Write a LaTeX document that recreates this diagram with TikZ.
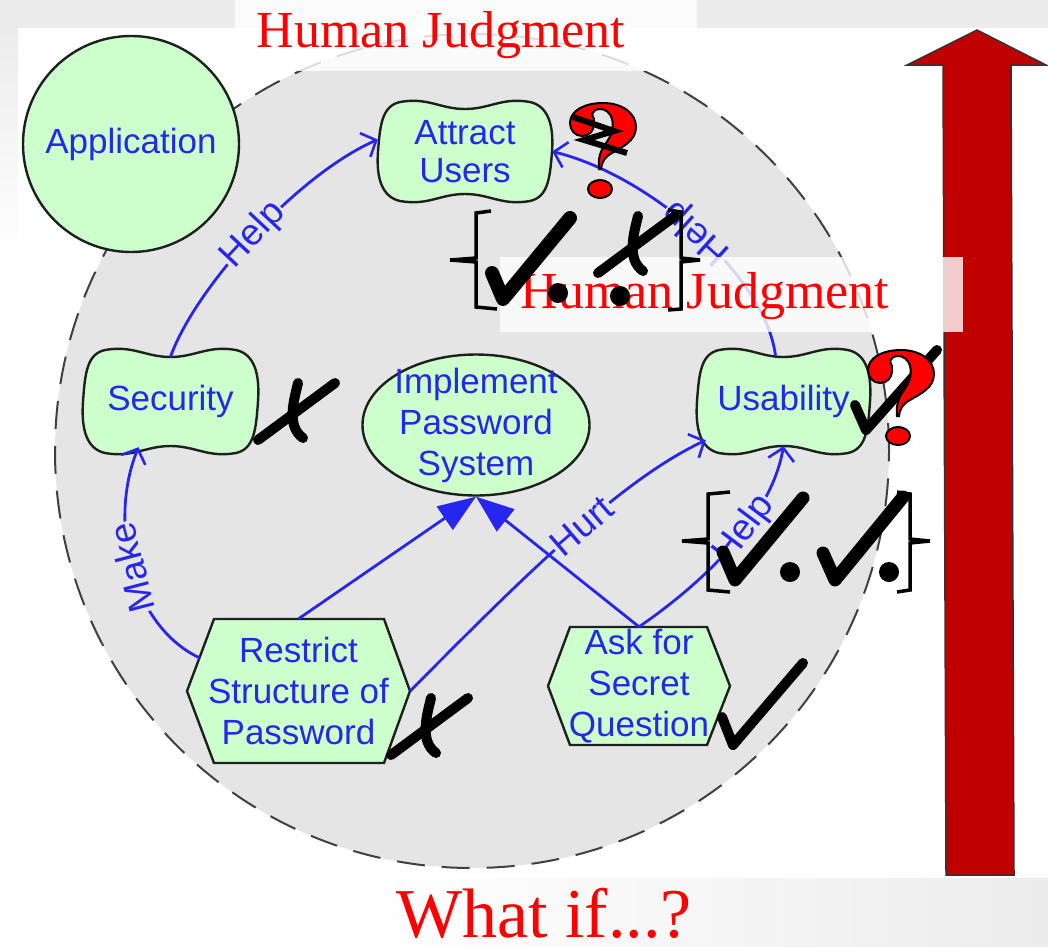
\documentclass[tikz,border=0pt]{standalone}
\usepackage{fontspec}
\setmainfont{Liberation Serif}
\setsansfont{Liberation Sans}
\usetikzlibrary{shapes.geometric,arrows.meta}
\definecolor{bgg}{HTML}{ECECEC}
\definecolor{cgray}{HTML}{E5E5E5}
\definecolor{ngreen}{HTML}{CCFFCC}
\definecolor{nblue}{HTML}{2626EE}
\definecolor{darrow}{HTML}{C00000}
\definecolor{hjred}{HTML}{FF0000}
\tikzset{
  goalline/.style={draw=black!88, line width=2.4pt, fill=ngreen},
  ntext/.style={text=nblue, font=\sffamily\fontsize{35}{41}\selectfont, align=center, inner sep=0pt},
  rel/.style={draw=nblue, line width=2.8pt, -{Straight Barb[length=12pt,width=26pt,line width=2.6pt]}},
  decomp/.style={draw=nblue, line width=2.8pt, -{Triangle[length=38pt,width=28pt]}},
  lbl/.style={sloped, allow upside down, fill=cgray, text=nblue, font=\sffamily\fontsize{37}{40}\selectfont, inner sep=1pt},
  inkmark/.style={draw=black, line width=10pt, line cap=round, line join=round},
  brk/.style={draw=black, line width=3.5pt},
  qm/.style={fill=hjred, draw=black, line width=2pt},
  hj/.style={text=hjred, font=\fontsize{52}{60}\selectfont, inner sep=0pt},
}
\newcommand\softgoal[4]{%
  \draw[goalline] ({#1+22},{#2+2})
  .. controls ({#1+50},{#2-3}) and ({(#1+#3)/2-25},{#2+9}) .. ({(#1+#3)/2},{#2+9})
  .. controls ({(#1+#3)/2+25},{#2+9}) and ({#3-50},{#2-3}) .. ({#3-22},{#2+2})
  .. controls ({#3-4},{#2+6}) and ({#3+2},{#2+25}) .. ({#3},{(#2+#4)/2})
  .. controls ({#3-2},{#4-25}) and ({#3-4},{#4-6}) .. ({#3-22},{#4-2})
  .. controls ({#3-50},{#4+3}) and ({(#1+#3)/2+25},{#4-9}) .. ({(#1+#3)/2},{#4-9})
  .. controls ({(#1+#3)/2-25},{#4-9}) and ({#1+50},{#4+3}) .. ({#1+22},{#4-2})
  .. controls ({#1+4},{#4-6}) and ({#1-2},{#4-25}) .. ({#1},{(#2+#4)/2})
  .. controls ({#1+2},{#2+25}) and ({#1+4},{#2+6}) .. cycle;}
\newcommand\xmk[2]{%
  \begin{scope}[shift={(#1,#2)}]
    \draw[inkmark] (0,0) -- (77,-57);
    \draw[inkmark] (40,-57) .. controls (36,-40) and (28,-14) .. (45,-2);
  \end{scope}}
\newcommand\qmk[2]{%
  \begin{scope}[shift={(#1,#2)}]
    \filldraw[qm] (12,33) .. controls (5,33) and (0,27) .. (0,20)
      .. controls (0,8) and (14,0) .. (33,0)
      .. controls (52,0) and (66,10) .. (66,24)
      .. controls (66,38) and (52,44) .. (42,50)
      .. controls (35,54) and (32,58) .. (31,66) -- (29,66)
      .. controls (28,56) and (30,48) .. (36,40)
      .. controls (42,32) and (44,24) .. (42,16)
      .. controls (40,9) and (35,6) .. (30,6)
      .. controls (26,6) and (23,8) .. (22,11)
      .. controls (24,14) and (24,17) .. (24,21)
      .. controls (24,28) and (19,33) .. (12,33) -- cycle;
    \filldraw[qm] (30,86) ellipse [x radius=12pt, y radius=9pt];
  \end{scope}}
\begin{document}
\begin{tikzpicture}[x=1pt,y=-1pt]
\useasboundingbox (0,0) rectangle (1048,946);
% background
\fill[white] (0,0) rectangle (1048,946);
\fill[bgg] (0,0) rectangle (1048,28);
\shade[top color=bgg, bottom color=white] (0,28) rectangle (18,260);
\shade[left color=white, right color=bgg] (370,878) rectangle (1048,946);
% big dashed circle
\draw[fill=cgray, draw=black!75, line width=2pt, dash pattern=on 28pt off 17pt] (472,451) circle [radius=417pt];
% red arrow
\filldraw[fill=darrow, draw=black!80, line width=1.5pt] (943,65) -- (907,65) -- (977,30) -- (1046,65) -- (1011,65) -- (1014,875) -- (946,875) -- cycle;
% top label
\fill[white, opacity=0.82] (235,0) rectangle (697,71);
\node[hj, anchor=base] (hj1) at (441,47) {Human Judgment};
% application
\node[circle, draw=black!88, line width=2.4pt, fill=ngreen, minimum size=216pt, ntext] (app) at (131,144) {Application};
% soft goals
\softgoal{378}{100}{552}{203}
\node[ntext, font=\sffamily\fontsize{35}{38}\selectfont, minimum width=174pt, minimum height=103pt] (att) at (465,151.5) {Attract\\Users};
\softgoal{83}{348}{258}{455}
\node[ntext, minimum width=175pt, minimum height=107pt] (sec) at (170.5,401.5) {Security};
\softgoal{697}{348}{870}{455}
\node[ntext, minimum width=173pt, minimum height=107pt] (usa) at (783.5,401.5) {Usability};
% goal
\node[ellipse, draw=black!88, fill=ngreen, line width=2.4pt, minimum width=227pt, minimum height=141pt, inner sep=0pt] (imp) at (476,425) {};
\node[ntext] (impt) at (imp) {Implement\\Password\\System};
% tasks
\draw[goalline] (214,619) -- (384,619) -- (410,691) -- (384,763) -- (214,763) -- (187,691) -- cycle;
\node[ntext, minimum width=223pt, minimum height=144pt] (res) at (298.5,691) {Restrict\\Structure of\\Password};
\draw[goalline] (570,627) -- (707,627) -- (730,686) -- (707,745) -- (570,745) -- (548,686) -- cycle;
\node[ntext, minimum width=182pt, minimum height=118pt] (ask) at (639,686) {Ask for\\Secret\\Question};
% links
\draw[rel] ([yshift=-9pt]sec.north) .. controls +(25,-70) and +(-80,35) .. ([yshift=12pt]att.west) node[lbl, pos=0.5] {Help};
\draw[rel] ([xshift=-8pt,yshift=-8pt]usa.north) .. controls +(-10,-80) and +(98,24) .. (att.east) node[lbl, pos=0.5] {Help};
\draw[rel] ([xshift=13pt,yshift=33pt]res.west) .. controls +(-70,-33) and +(-30,73) .. ([xshift=-32pt,yshift=8pt]sec.south) node[lbl, pos=0.5] {Make};
\draw[rel] (res.east) .. controls +(110,-111) and +(-86,40) .. ([xshift=9pt,yshift=15pt]usa.south west) node[lbl, pos=0.55] {Hurt};
\draw[rel] (ask.north) .. controls +(61,-42) and +(-13,74) .. ([yshift=9pt]usa.south) node[lbl, pos=0.6] {Help};
\draw[decomp] (res.north) -- (imp.south);
\draw[decomp] (ask.north) -- (imp.south);
% second label
\fill[white, opacity=0.8] (500,257) rectangle (963,332);
\node[hj, anchor=base] (hj2) at (705,308) {Human Judgment};
% marks
\xmk{258}{440}
\xmk{391}{755}
\xmk{598}{273}
\draw[inkmark] (722,717) -- (733,745) -- (803,663);
\draw[inkmark] (855,405) -- (866,430) -- (937,350);
\draw[inkmark, line width=14pt] (492,273) -- (503,299) -- (570,218);
\draw[inkmark, line width=13pt] (723,552) -- (735,580) -- (803,498);
\draw[inkmark, line width=13pt] (823,553) -- (835,580) -- (903,497);
\fill (558,293) circle [radius=10pt];
\fill (620,296) circle [radius=10pt];
\fill (790,572) circle [radius=10pt];
\fill (889,572) circle [radius=10pt];
% brackets
\draw[brk] (491,211) -- (476,213) -- (476,258) -- (450,260);
\draw[brk] (450,260) -- (476,262) -- (476,307) -- (497,309);
\draw[brk] (668,210) -- (681,212) -- (681,258) -- (700,260);
\draw[brk] (700,260) -- (681,262) -- (681,309) -- (668,310);
\draw[brk] (730,492) -- (708,494) -- (708,539) -- (682,541);
\draw[brk] (682,541) -- (708,543) -- (708,590) -- (730,592);
\draw[brk] (897,492) -- (910,494) -- (910,539) -- (930,541);
\draw[brk] (930,541) -- (910,543) -- (910,590) -- (897,592);
% question marks
\qmk{570}{103}
\draw[line width=6pt] (573,117) -- (614,131) -- (584,140) -- (627,153);
\qmk{868}{350}
% bottom
\node[text=hjred, font=\fontsize{70}{80}\selectfont, anchor=base, inner sep=0pt] (whatif) at (544,937) {What if...?};
\end{tikzpicture}
\end{document}
